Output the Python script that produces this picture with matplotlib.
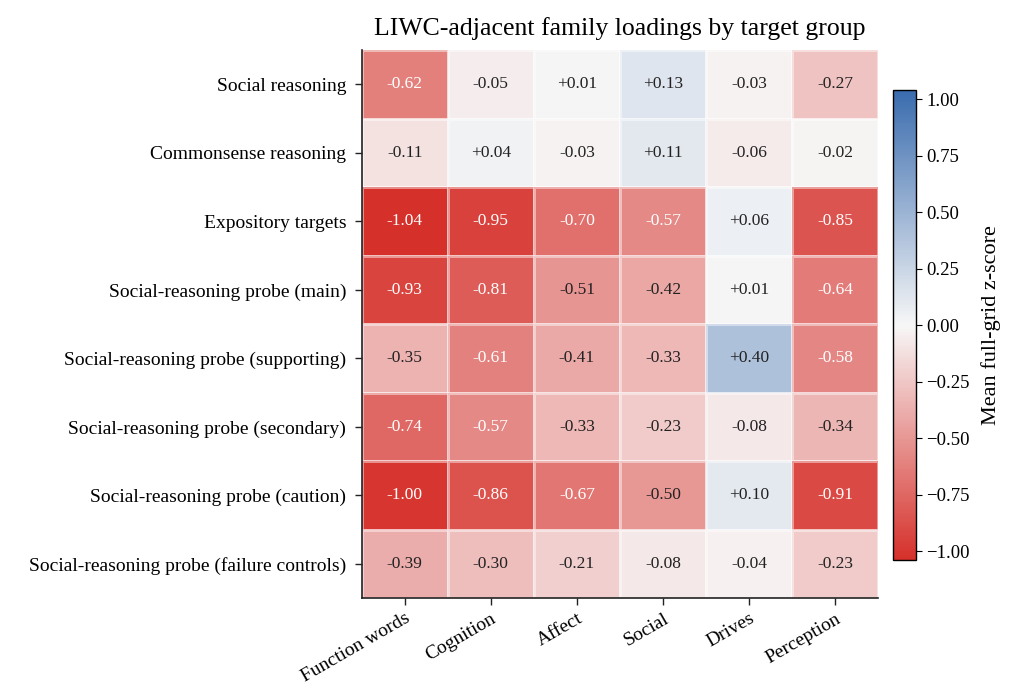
import numpy as np
import matplotlib
matplotlib.use("Agg")
import matplotlib.pyplot as plt
from matplotlib.colors import LinearSegmentedColormap

plt.rcParams['font.family'] = ['Liberation Serif', 'DejaVu Serif']

groups = [
    "Social reasoning",
    "Commonsense reasoning",
    "Expository targets",
    "Social-reasoning probe (main)",
    "Social-reasoning probe (supporting)",
    "Social-reasoning probe (secondary)",
    "Social-reasoning probe (caution)",
    "Social-reasoning probe (failure controls)",
]
families = ["Function words", "Cognition", "Affect", "Social", "Drives", "Perception"]

social_reasoning = [-0.62, -0.05, 0.01, 0.13, -0.03, -0.27]
commonsense = [-0.11, 0.04, -0.03, 0.11, -0.06, -0.02]
expository = [-1.04, -0.95, -0.70, -0.57, 0.06, -0.85]
probe_main = [-0.93, -0.81, -0.51, -0.42, 0.01, -0.64]
probe_supporting = [-0.35, -0.61, -0.41, -0.33, 0.40, -0.58]
probe_secondary = [-0.74, -0.57, -0.33, -0.23, -0.08, -0.34]
probe_caution = [-1.00, -0.86, -0.67, -0.50, 0.10, -0.91]
probe_failure = [-0.39, -0.30, -0.21, -0.08, -0.04, -0.23]

z = np.array([social_reasoning, commonsense, expository, probe_main,
              probe_supporting, probe_secondary, probe_caution, probe_failure])

lim = np.abs(z).max()
cmap = LinearSegmentedColormap.from_list("rwb", ["#d6302a", "#f7f7f7", "#3a6cae"])

fig = plt.figure(figsize=(10.13, 6.9), dpi=100)
ax = fig.add_axes([0.357, 0.133, 0.510, 0.7945])
cax = fig.add_axes([0.8815, 0.188, 0.0227, 0.681])

mesh = ax.pcolormesh(z, cmap=cmap, vmin=-lim, vmax=lim,
                     edgecolors=(1, 1, 1, 0.45), linewidth=0.8)
ax.set_xlim(0, z.shape[1])
ax.set_ylim(z.shape[0], 0)

for i in range(z.shape[0]):
    for j in range(z.shape[1]):
        v = z[i, j]
        ax.text(j + 0.5, i + 0.5, f"{v:+.2f}" if v > 0 else f"{v:.2f}",
                ha="center", va="center", fontsize=12.5,
                color="white" if abs(v) > 0.55 else "#222222")

ax.set_xticks(np.arange(z.shape[1]) + 0.5)
ax.set_xticklabels(families, rotation=30, ha="right", rotation_mode="anchor", fontsize=14)
ax.set_yticks(np.arange(z.shape[0]) + 0.5)
ax.set_yticklabels(groups, fontsize=14)
ax.tick_params(length=5, width=1, color="#222222")
ax.tick_params(axis="y", pad=6)
for side in ("top", "right"):
    ax.spines[side].set_visible(False)
for side in ("left", "bottom"):
    ax.spines[side].set_linewidth(1.2)
    ax.spines[side].set_color("#222222")

ax.set_title("LIWC-adjacent family loadings by target group", fontsize=18.5, pad=11)

cb = fig.colorbar(mesh, cax=cax)
cb.set_ticks([-1.0, -0.75, -0.5, -0.25, 0.0, 0.25, 0.5, 0.75, 1.0])
cb.ax.tick_params(labelsize=13.5, length=4)
cb.set_label("Mean full-grid z-score", fontsize=16, labelpad=8)
cb.outline.set_linewidth(1.0)

fig.savefig("out.png", dpi=100)
